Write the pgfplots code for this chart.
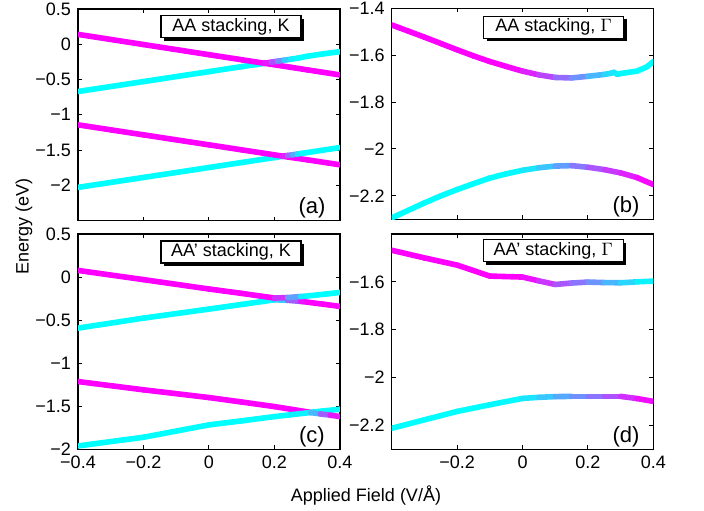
\documentclass[border=0pt]{standalone}
\usepackage{fontspec}
\setmainfont{Liberation Sans}
\usepackage{pgfplots}
\pgfplotsset{compat=1.18}
\usetikzlibrary{shadows}

\newcommand{\ninept}{\fontsize{9}{10}\selectfont}

\pgfplotsset{
  panel/.style={
    scale only axis,
    anchor=north west,
    xmin=-0.4, xmax=0.4,
    xtick={-0.4,-0.2,0,0.2,0.4},
    axis line style={line width=0.6pt},
    every tick/.style={black, line width=0.5pt},
    major tick length=2pt,
    tick label style={font=\ninept},
    colormap={cm}{rgb255=(0,255,255) rgb255=(255,0,255)},
    point meta min=0, point meta max=1,
  },
  band/.style={mesh, point meta=explicit, line width=2.8pt,
    line cap=round, line join=round},
}
\tikzset{
  tag/.style={draw, line width=0.6pt, fill=white, font=\ninept,
    minimum width=70pt, minimum height=11pt, inner sep=0pt,
    drop shadow={shadow xshift=1.5pt, shadow yshift=-1.5pt,
      fill=black, opacity=1}},
  letter/.style={font=\fontsize{11}{12}\selectfont},
}

\begin{document}
\begin{tikzpicture}
\path[use as bounding box] (0,0) rectangle (352pt,-255pt);

% (a) AA stacking, K
\begin{axis}[panel, at={(39pt,-4.5pt)}, width=131pt, height=105.75pt,
  ymin=-2.5, ymax=0.5,
  ytick={-2,-1.5,-1,-0.5,0,0.5},
  yticklabels={−2,−1.5,−1,−0.5,0,0.5},
  xticklabels={}]
\addplot[band] table[meta=c, row sep=\\] {
x y c \\
-0.4 -0.67 0 \\ -0.2 -0.529 0 \\ 0 -0.388 0 \\ 0.1 -0.317 0 \\
0.17 -0.27 0 \\ 0.17 -0.27 1 \\ 0.25 -0.327 1 \\ 0.3 -0.363 1 \\ 0.4 -0.435 1 \\
};
\addplot[band] table[meta=c, row sep=\\] {
x y c \\
-0.4 0.14 1 \\ -0.2 -0.004 1 \\ 0 -0.148 1 \\ 0.1 -0.22 1 \\ 0.17 -0.27 1 \\
0.19 -0.254 0.8 \\ 0.21 -0.24 0.55 \\ 0.23 -0.226 0.3 \\ 0.25 -0.212 0.1 \\
0.27 -0.198 0 \\ 0.3 -0.17 0 \\ 0.35 -0.135 0 \\ 0.4 -0.105 0 \\
};
\addplot[band] table[meta=c, row sep=\\] {
x y c \\
-0.4 -2.03 0 \\ -0.2 -1.889 0 \\ 0 -1.748 0 \\ 0.1 -1.677 0 \\ 0.2 -1.607 0 \\
0.225 -1.589 0 \\ 0.225 -1.589 1 \\ 0.3 -1.639 1 \\ 0.4 -1.71 1 \\
};
\addplot[band] table[meta=c, row sep=\\] {
x y c \\
-0.4 -1.143 1 \\ -0.2 -1.285 1 \\ 0 -1.427 1 \\ 0.1 -1.498 1 \\ 0.2 -1.569 1 \\
0.225 -1.587 1 \\ 0.24 -1.578 0.75 \\ 0.255 -1.567 0.45 \\ 0.27 -1.557 0.2 \\
0.285 -1.546 0 \\ 0.3 -1.536 0 \\ 0.4 -1.465 0 \\
};
\node[tag] at (rel axis cs:0.584,0.917) {AA stacking, K};
\node[letter] at (rel axis cs:0.893,0.062) {(a)};
\end{axis}

% (b) AA stacking, Gamma
\begin{axis}[panel, at={(195.85pt,-4.15pt)}, width=130.8pt, height=105.5pt,
  ymin=-2.3, ymax=-1.4,
  ytick={-2.2,-2,-1.8,-1.6,-1.4},
  yticklabels={−2.2,−2,−1.8,−1.6,−1.4},
  xticklabels={}]
\addplot[band] table[meta=c, row sep=\\] {
x y c \\
-0.4 -1.471 1 \\ -0.35 -1.497 1 \\ -0.3 -1.523 1 \\ -0.25 -1.55 1 \\
-0.2 -1.577 1 \\ -0.15 -1.603 1 \\ -0.1 -1.627 1 \\ -0.05 -1.648 1 \\
0 -1.668 0.92 \\ 0.05 -1.684 0.8 \\ 0.1 -1.695 0.65 \\ 0.15 -1.697 0.5 \\
0.2 -1.69 0.35 \\ 0.25 -1.682 0.2 \\ 0.27 -1.677 0.12 \\ 0.28 -1.673 0.1 \\
0.29 -1.682 0.08 \\ 0.3 -1.678 0.05 \\ 0.35 -1.668 0 \\ 0.38 -1.65 0 \\
0.4 -1.627 0 \\
};
\addplot[band] table[meta=c, row sep=\\] {
x y c \\
-0.4 -2.294 0 \\ -0.35 -2.262 0 \\ -0.3 -2.23 0 \\ -0.25 -2.2 0 \\
-0.2 -2.173 0 \\ -0.15 -2.148 0 \\ -0.1 -2.124 0 \\ -0.05 -2.106 0 \\
0 -2.091 0.05 \\ 0.05 -2.08 0.15 \\ 0.1 -2.073 0.3 \\ 0.15 -2.071 0.45 \\
0.2 -2.078 0.6 \\ 0.25 -2.088 0.72 \\ 0.3 -2.102 0.82 \\ 0.35 -2.122 0.92 \\
0.4 -2.152 1 \\
};
\node[tag] at (rel axis cs:0.619,0.91) {AA stacking, $\Gamma$};
\node[letter] at (rel axis cs:0.896,0.06) {(b)};
\end{axis}

% (c) AA' stacking, K
\begin{axis}[panel, at={(39pt,-117pt)}, width=131pt, height=107.6pt,
  ymin=-2, ymax=0.5,
  ytick={-2,-1.5,-1,-0.5,0,0.5},
  yticklabels={−2,−1.5,−1,−0.5,0,0.5},
  xticklabels={−0.4,−0.2,0,0.2,0.4}]
\addplot[band] table[meta=c, row sep=\\] {
x y c \\
-0.4 -0.593 0 \\ -0.2 -0.477 0 \\ 0 -0.372 0 \\ 0.1 -0.318 0 \\ 0.2 -0.264 0 \\
0.24 -0.27 0.4 \\ 0.28 -0.283 0.85 \\ 0.3 -0.292 1 \\ 0.35 -0.316 1 \\
0.4 -0.341 1 \\
};
\addplot[band] table[meta=c, row sep=\\] {
x y c \\
-0.4 0.077 1 \\ -0.2 -0.03 1 \\ 0 -0.139 1 \\ 0.1 -0.19 1 \\ 0.2 -0.244 1 \\
0.24 -0.238 0.6 \\ 0.28 -0.226 0.15 \\ 0.3 -0.22 0 \\ 0.35 -0.2 0 \\
0.4 -0.179 0 \\
};
\addplot[band] table[meta=c, row sep=\\] {
x y c \\
-0.4 -1.214 1 \\ -0.2 -1.31 1 \\ 0 -1.40 1 \\ 0.1 -1.452 1 \\ 0.2 -1.505 1 \\
0.31 -1.572 1 \\ 0.31 -1.572 0 \\ 0.35 -1.555 0 \\ 0.4 -1.535 0 \\
};
\addplot[band] table[meta=c, row sep=\\] {
x y c \\
-0.4 -1.962 0 \\ -0.2 -1.861 0 \\ 0 -1.717 0 \\ 0.1 -1.67 0 \\ 0.2 -1.621 0 \\
0.25 -1.599 0 \\ 0.31 -1.574 0.1 \\ 0.34 -1.59 0.45 \\ 0.37 -1.604 0.8 \\
0.4 -1.621 1 \\
};
\node[tag] at (rel axis cs:0.584,0.916) {AA' stacking, K};
\node[letter] at (rel axis cs:0.893,0.057) {(c)};
\end{axis}

% (d) AA' stacking, Gamma
\begin{axis}[panel, at={(195.85pt,-117pt)}, width=130.8pt, height=107.6pt,
  ymin=-2.3, ymax=-1.4,
  ytick={-2.2,-2,-1.8,-1.6},
  yticklabels={−2.2,−2,−1.8,−1.6},
  xtick={-0.2,0,0.2,0.4},
  xticklabels={−0.2,0,0.2,0.4}]
\addplot[band] table[meta=c, row sep=\\] {
x y c \\
-0.4 -1.468 1 \\ -0.3 -1.50 1 \\ -0.2 -1.53 1 \\ -0.1 -1.576 1 \\ 0 -1.58 1 \\
0.05 -1.596 0.85 \\ 0.1 -1.611 0.72 \\ 0.15 -1.605 0.6 \\ 0.2 -1.601 0.48 \\
0.25 -1.603 0.35 \\ 0.3 -1.604 0.22 \\ 0.35 -1.6 0.1 \\ 0.4 -1.597 0 \\
};
\addplot[band] table[meta=c, row sep=\\] {
x y c \\
-0.4 -2.2125 0 \\ -0.3 -2.177 0 \\ -0.2 -2.142 0 \\ -0.1 -2.114 0 \\
0 -2.0875 0.05 \\ 0.05 -2.083 0.15 \\ 0.1 -2.08 0.28 \\ 0.15 -2.079 0.38 \\
0.2 -2.079 0.48 \\ 0.25 -2.079 0.6 \\ 0.3 -2.079 0.75 \\ 0.35 -2.088 0.88 \\
0.4 -2.1 1 \\
};
\node[tag] at (rel axis cs:0.618,0.923) {AA' stacking, $\Gamma$};
\node[letter] at (rel axis cs:0.896,0.057) {(d)};
\end{axis}

\node[rotate=90, font=\ninept] at (12pt,-113pt) {Energy (eV)};
\node[font=\ninept] at (183pt,-247.5pt) {Applied Field (V/Å)};
\end{tikzpicture}
\end{document}
